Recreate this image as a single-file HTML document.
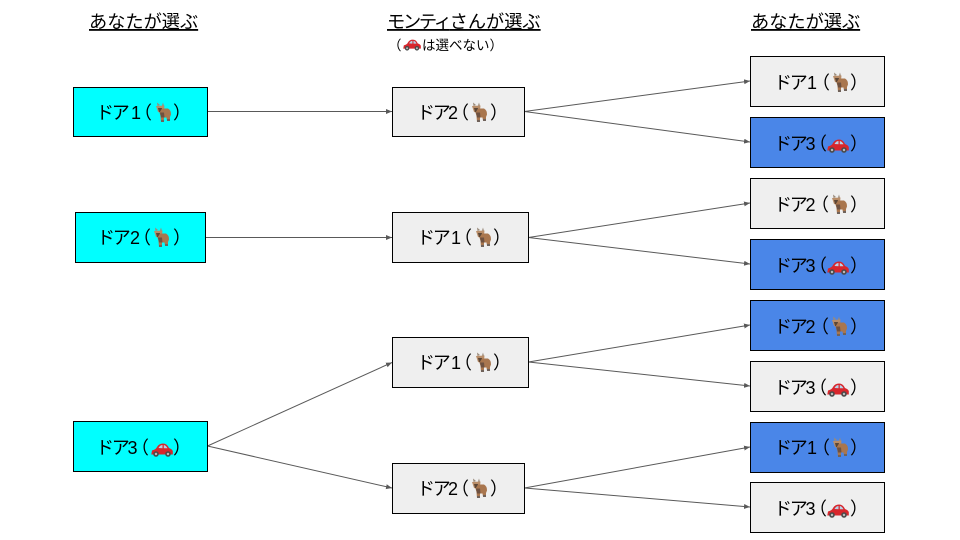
<!DOCTYPE html>
<html lang="ja">
<head>
<meta charset="utf-8">
<title>ドア選択図</title>
<style>
html,body{margin:0;padding:0;background:#fff;width:960px;height:540px;overflow:hidden}
svg{display:block}
text{font-family:"Liberation Sans","Noto Sans CJK JP",sans-serif;fill:#000}
.t{font-size:18.2px}
.l{font-size:18px}
.k{letter-spacing:-2.25px}
.s{font-size:13.5px}
rect.box{stroke:#000;stroke-width:1}
.g{fill:#efefef}.c{fill:#00ffff}.b{fill:#4a86e8}
line{stroke:#595959;stroke-width:1}
</style>
</head>
<body>
<svg width="960" height="540" viewBox="0 0 960 540" xmlns="http://www.w3.org/2000/svg">
<defs>
<marker id="a" markerUnits="userSpaceOnUse" markerWidth="7" markerHeight="6" refX="6" refY="2.5" orient="auto"><path d="M0 0L6 2.5L0 5Z" fill="#595959"/></marker>
<symbol id="goat" viewBox="0 0 16 20" overflow="visible">
<path d="M2.5 4L2 0.5L5 3ZM7 3.5L8 0.5L9 4Z" fill="#9a8a7a"/>
<path d="M1 4L9.5 3.5L9 8.5L6.5 11L3 10Z" fill="#b98d68"/>
<path d="M3 6L7 6L6.5 10.5L4 10Z" fill="#5b4636"/>
<path d="M7 6.5L13 6.5Q16 8 16 12.5L15 15L15 18.5L12 18.5L11.5 15.5L9 15.5L9 20L6 20L5.5 14L4.5 10.5Z" fill="#a9764e"/>
<path d="M5 10.5L9 10.5L9.5 15.5L6 15.5Z" fill="#6e5140"/>
<path d="M6 18L9 18L9 20L6 20ZM12 17L15 17L15 19L12 19Z" fill="#70625a"/>
</symbol>
<symbol id="car" viewBox="0 0 22 14" overflow="visible">
<path d="M1 7.5Q5 6.5 6 4Q8 0.5 12 0.5Q16 0.5 18 5Q21 6 21.8 8L21.8 11.5L0.3 11.5Z" fill="#d8262c"/>
<path d="M7.5 5Q9 2 11.5 2L11.5 5.3ZM12.8 2Q15 2.3 16.5 5.3L12.8 5.3Z" fill="#b7d3e8"/>
<circle cx="5" cy="11" r="2.8" fill="#4a4a4a"/><circle cx="5" cy="11" r="1.2" fill="#bbb"/>
<circle cx="17" cy="11" r="2.8" fill="#4a4a4a"/><circle cx="17" cy="11" r="1.2" fill="#bbb"/>
</symbol>
</defs>

<line x1="207.5" y1="111.5" x2="392" y2="111.5" marker-end="url(#a)"/>
<line x1="524.5" y1="111.5" x2="750" y2="81" marker-end="url(#a)"/>
<line x1="524.5" y1="111.5" x2="750" y2="142" marker-end="url(#a)"/>
<line x1="205.5" y1="237.5" x2="392" y2="237.5" marker-end="url(#a)"/>
<line x1="528.5" y1="237.5" x2="750" y2="203" marker-end="url(#a)"/>
<line x1="528.5" y1="237.5" x2="750" y2="264" marker-end="url(#a)"/>
<line x1="528.5" y1="362" x2="750" y2="325" marker-end="url(#a)"/>
<line x1="528.5" y1="362" x2="750" y2="386" marker-end="url(#a)"/>
<line x1="207.5" y1="446" x2="392" y2="362.5" marker-end="url(#a)"/>
<line x1="207.5" y1="446" x2="392" y2="488" marker-end="url(#a)"/>
<line x1="524.5" y1="488" x2="750" y2="447" marker-end="url(#a)"/>
<line x1="524.5" y1="488" x2="750" y2="507" marker-end="url(#a)"/>

<rect class="box c" x="73.5" y="87.5" width="134" height="49"/>
<rect class="box c" x="75.5" y="212.5" width="130" height="50"/>
<rect class="box c" x="73.5" y="421.5" width="134" height="50"/>
<rect class="box g" x="392.5" y="87.5" width="132" height="49"/>
<rect class="box g" x="392.5" y="212.5" width="136" height="50"/>
<rect class="box g" x="392.5" y="337.5" width="136" height="50"/>
<rect class="box g" x="392.5" y="463.5" width="132" height="50"/>
<rect class="box g" x="750.5" y="56.5" width="134" height="50"/>
<rect class="box b" x="750.5" y="117.5" width="134" height="50"/>
<rect class="box g" x="750.5" y="178.5" width="134" height="50"/>
<rect class="box b" x="750.5" y="239.5" width="134" height="50"/>
<rect class="box b" x="750.5" y="300.5" width="134" height="50"/>
<rect class="box g" x="750.5" y="361.5" width="134" height="50"/>
<rect class="box b" x="750.5" y="422.5" width="134" height="50"/>
<rect class="box g" x="750.5" y="482.5" width="134" height="50"/>

<text class="t" x="89" y="28" text-decoration="underline">あなたが選ぶ</text>
<text class="t" x="387" y="28" text-decoration="underline"><tspan class="k">モンティ</tspan>さんが選ぶ</text>
<text class="t" x="751" y="28" text-decoration="underline">あなたが選ぶ</text>
<text class="s" x="388" y="50">（</text>
<use href="#car" x="403" y="39" width="18" height="12"/>
<text class="s" x="422" y="50">は選べない）</text>

<g class="l" transform="translate(140,112)"><text class="k" x="-44" y="7">ドア</text><text x="-9" y="7">1</text><text x="-6" y="7">（</text><use href="#goat" x="15" y="-10" width="16" height="20"/><text x="33" y="7">）</text></g>
<g class="l" transform="translate(140,237)"><text class="k" x="-43" y="7">ドア</text><text x="-10" y="7">2</text><text x="-7" y="7">（</text><use href="#goat" x="13" y="-10" width="16" height="20"/><text x="33" y="7">）</text></g>
<g class="l" transform="translate(140,447)"><text class="k" x="-44" y="7">ドア</text><text x="-12.5" y="7">3</text><text x="-9" y="7">（</text><use href="#car" x="11" y="-4" width="22" height="14"/><text x="33" y="7">）</text></g>

<g class="l" transform="translate(458,112)"><text class="k" x="-41" y="7">ドア</text><text x="-10" y="7">2</text><text x="-7" y="7">（</text><use href="#goat" x="13" y="-10" width="16" height="20"/><text x="32" y="7">）</text></g>
<g class="l" transform="translate(460,237)"><text class="k" x="-43" y="7">ドア</text><text x="-9" y="7">1</text><text x="-6" y="7">（</text><use href="#goat" x="15" y="-10" width="16" height="20"/><text x="33" y="7">）</text></g>
<g class="l" transform="translate(460,362)"><text class="k" x="-43" y="7">ドア</text><text x="-9" y="7">1</text><text x="-6" y="7">（</text><use href="#goat" x="15" y="-10" width="16" height="20"/><text x="33" y="7">）</text></g>
<g class="l" transform="translate(458,488)"><text class="k" x="-41" y="7">ドア</text><text x="-10" y="7">2</text><text x="-7" y="7">（</text><use href="#goat" x="13" y="-10" width="16" height="20"/><text x="32" y="7">）</text></g>

<g class="l" transform="translate(817,82)"><text class="k" x="-43" y="7">ドア</text><text x="-10" y="7">1</text><text x="-5" y="7">（</text><use href="#goat" x="15" y="-10" width="16" height="20"/><text x="33" y="7">）</text></g>
<g class="l" transform="translate(817,143)"><text class="k" x="-43" y="7">ドア</text><text x="-11.5" y="7">3</text><text x="-8" y="7">（</text><use href="#car" x="10" y="-4" width="22" height="14"/><text x="33" y="7">）</text></g>
<g class="l" transform="translate(817,204)"><text class="k" x="-43" y="7">ドア</text><text x="-11.5" y="7">2</text><text x="-6" y="7">（</text><use href="#goat" x="14" y="-10" width="16" height="20"/><text x="33" y="7">）</text></g>
<g class="l" transform="translate(817,265)"><text class="k" x="-43" y="7">ドア</text><text x="-11.5" y="7">3</text><text x="-8" y="7">（</text><use href="#car" x="10" y="-4" width="22" height="14"/><text x="33" y="7">）</text></g>
<g class="l" transform="translate(817,326)"><text class="k" x="-43" y="7">ドア</text><text x="-11.5" y="7">2</text><text x="-6" y="7">（</text><use href="#goat" x="14" y="-10" width="16" height="20"/><text x="33" y="7">）</text></g>
<g class="l" transform="translate(817,387)"><text class="k" x="-43" y="7">ドア</text><text x="-11.5" y="7">3</text><text x="-8" y="7">（</text><use href="#car" x="10" y="-4" width="22" height="14"/><text x="33" y="7">）</text></g>
<g class="l" transform="translate(817,447)"><text class="k" x="-43" y="7">ドア</text><text x="-10" y="7">1</text><text x="-5" y="7">（</text><use href="#goat" x="15" y="-10" width="16" height="20"/><text x="33" y="7">）</text></g>
<g class="l" transform="translate(817,508)"><text class="k" x="-43" y="7">ドア</text><text x="-11.5" y="7">3</text><text x="-8" y="7">（</text><use href="#car" x="10" y="-4" width="22" height="14"/><text x="33" y="7">）</text></g>
</svg>
</body>
</html>
